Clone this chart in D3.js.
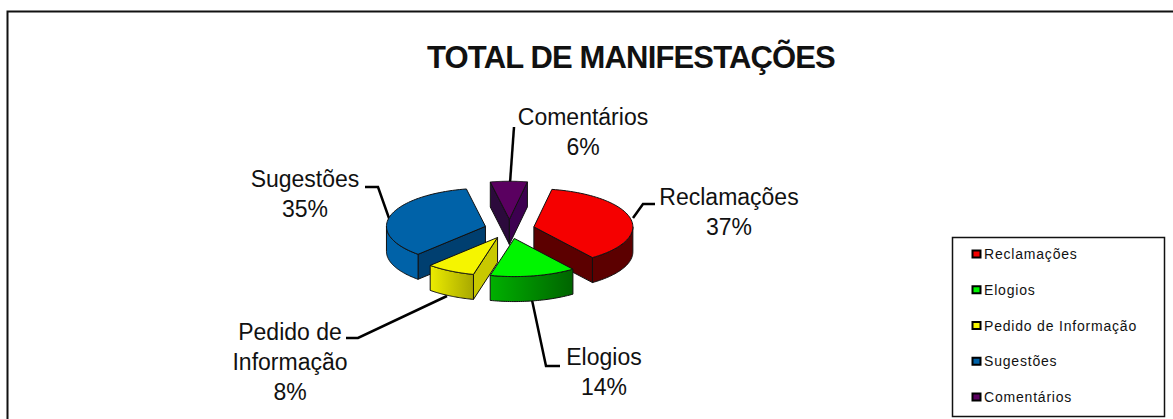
<!DOCTYPE html>
<html><head><meta charset="utf-8">
<script src="https://cdnjs.cloudflare.com/ajax/libs/d3/7.8.5/d3.min.js"></script>
<style>html,body{margin:0;background:#fff}svg{display:block}text{font-family:"Liberation Sans",Arial,sans-serif;fill:#111}</style>
</head><body><svg id="c" width="1173" height="419"></svg>
<script>
const titleText = "TOTAL DE MANIFESTAÇÕES";
const categories = ["Reclamações","Elogios","Pedido de Informação","Sugestões","Comentários"];
const values = [37,14,8,35,6];
const topColors = ["#f50000","#00f500","#f5f500","#0062a8","#5a0060"];
const outerLeft = ["#5c0000","#00b000","#ecec00","#0062a8","#3d0050"];
const outerRight = ["#5c0000","#006400","#a8a800","#0062a8","#3d0050"];
const startWall = ["#5c0000","#006400","#c8c800","#003f70","#2c0a3c"];
const endWall = ["#5c0000","#006400","#c8c800","#003f70","#3d0050"];
const labelLines = [["Reclamações","37%"],["Elogios","14%"],["Pedido de","Informação","8%"],["Sugestões","35%"],["Comentários","6%"]];
const labelAnchor = [[729,198],[604,358],[290,333],[305,180],[583,118]];
const leaders = [[[655,204],[643,204],[633,218]],[[532,300],[546,366],[560,366]],[[447,296],[358,338],[346,338]],[[365,187],[378,187],[390,221]],[[514,127],[510,183]]];
const drawOrder = [4,3,0,2,1];

const svg = d3.select("#c");
const defs = svg.append("defs");
const cx=509.5, cy=229, R=99, K=0.385, EXPL=25, DEPTH=25;
const x = d3.scaleLinear().domain([-1,1]).range([cx-R,cx+R]);
const y = d3.scaleLinear().domain([-1,1]).range([cy-R*K,cy+R*K]);
const ex = EXPL/R;
const pie = d3.pie().sort(null).startAngle(10.5*Math.PI/180).endAngle((360+10.5)*Math.PI/180);
const arcs = pie(values);
const line = d3.line();
const P = (a,rr,ox,oy,dz=0)=>[x(ox+rr*Math.sin(a)), y(oy-rr*Math.cos(a))+dz];

svg.append("rect").attr("x",7.5).attr("y",11.5).attr("width",1200).attr("height",440).attr("fill","#fff").attr("stroke","#111").attr("stroke-width",2);

svg.append("text").attr("x",631).attr("y",68).attr("text-anchor","middle").attr("font-size",31).attr("letter-spacing",-0.85).attr("font-weight","bold").text(titleText);

const lg = svg.append("g").attr("fill","none").attr("stroke","#000").attr("stroke-width",2.5);
leaders.forEach(l=>lg.append("path").attr("d",line(l)));

drawOrder.forEach(i=>{
  const d = arcs[i], m=(d.startAngle+d.endAngle)/2;
  const ox = ex*Math.sin(m), oy = -ex*Math.cos(m);
  const g = svg.append("g").attr("stroke","#111").attr("stroke-width",1).attr("stroke-linejoin","round");
  const apex = P(0,0,ox,oy);
  const wall = (a,fill)=>{
    const o=P(a,1,ox,oy);
    g.append("path").attr("fill",fill).attr("d",line([apex,o,[o[0],o[1]+DEPTH],[apex[0],apex[1]+DEPTH]])+"Z");
  };
  if(Math.cos(d.startAngle-Math.PI/2)<0) wall(d.startAngle,startWall[i]);
  if(Math.cos(d.endAngle+Math.PI/2)<0) wall(d.endAngle,endWall[i]);
  const a0=Math.max(d.startAngle,Math.PI/2), a1=Math.min(d.endAngle,3*Math.PI/2);
  if(a1>a0){
    const as=d3.range(0,41).map(t=>a0+(a1-a0)*t/40);
    const top=as.map(a=>P(a,1,ox,oy)), bot=as.map(a=>P(a,1,ox,oy,DEPTH)).reverse();
    const id="g"+i;
    const gr=defs.append("linearGradient").attr("id",id).attr("gradientUnits","userSpaceOnUse")
      .attr("x1",d3.min(top,p=>p[0])).attr("x2",d3.max(top,p=>p[0])).attr("y1",0).attr("y2",0);
    gr.append("stop").attr("offset",0).attr("stop-color",outerLeft[i]);
    gr.append("stop").attr("offset",1).attr("stop-color",outerRight[i]);
    g.append("path").attr("fill",`url(#${id})`).attr("d",line(top.concat(bot))+"Z");
  }
  const as=d3.range(0,61).map(t=>d.startAngle+(d.endAngle-d.startAngle)*t/60);
  g.append("path").attr("fill",topColors[i]).attr("d",line([apex].concat(as.map(a=>P(a,1,ox,oy))))+"Z");
});

labelLines.forEach((ls,i)=>{
  const t=svg.append("text").attr("text-anchor","middle").attr("font-size",23);
  ls.forEach((s,j)=>t.append("tspan").attr("x",labelAnchor[i][0]).attr("y",labelAnchor[i][1]+7+j*30).text(s));
});

svg.append("rect").attr("x",952.5).attr("y",237.5).attr("width",212).attr("height",179).attr("fill","#fff").attr("stroke","#111").attr("stroke-width",1.5);
const ly=d3.scalePoint().domain(categories).range([254,397]);
categories.forEach((c,i)=>{
  svg.append("rect").attr("x",972.5).attr("y",ly(c)-3.5).attr("width",8).attr("height",7).attr("fill",topColors[i]).attr("stroke","#000").attr("stroke-width",2);
  svg.append("text").attr("x",984).attr("y",ly(c)+5).attr("font-size",14).attr("letter-spacing",0.8).text(c);
});
</script></body></html>
